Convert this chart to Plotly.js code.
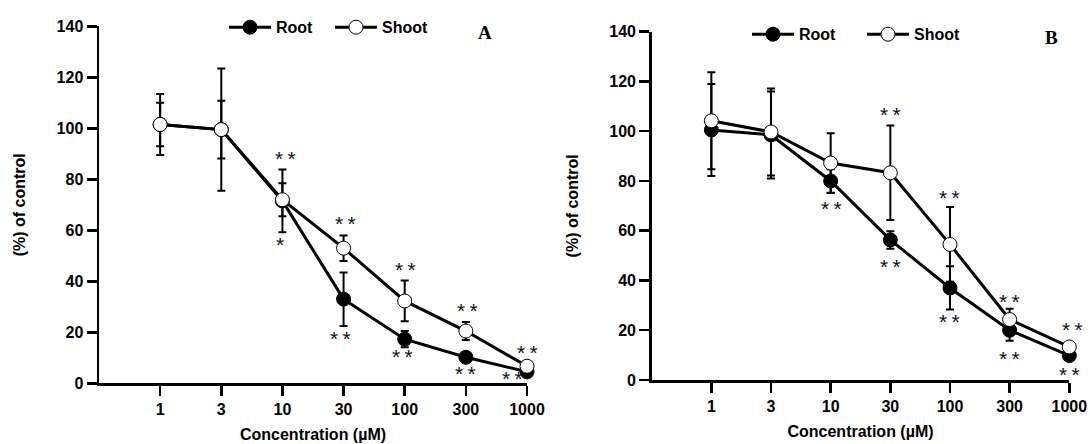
<!DOCTYPE html>
<html>
<head>
<meta charset="utf-8">
<script src="https://cdn.plot.ly/plotly-3.0.1.min.js"></script>
<style>html,body{margin:0;padding:0;background:#fff;}#chart{width:1090px;height:444px;}</style>
</head>
<body>
<div id="chart"></div>
<script>
// ---- data ----
const concentrations = ['1', '3', '10', '30', '100', '300', '1000'];

const rootA     = [101.5, 99.5, 71.5, 33.0, 17.3, 10.2, 4.5];
const rootAErr  = [12.0, 24.0, 12.3, 10.5, 3.2, 2.0, 1.5];
const shootA    = [101.5, 99.5, 72.0, 53.0, 32.3, 20.5, 6.7];
const shootAErr = [8.5, 11.3, 6.5, 5.0, 8.0, 3.5, 1.5];

const rootB     = [100.5, 98.5, 80.0, 56.3, 37.0, 20.0, 9.8];
const rootBErr  = [18.5, 17.5, 4.7, 3.5, 8.7, 4.2, 2.0];
const shootB    = [104.2, 99.7, 87.2, 83.3, 54.5, 24.3, 13.3];
const shootBErr = [19.5, 17.5, 12.0, 19.0, 15.0, 4.3, 2.0];

// significance marks (category, value level, text)
const S2 = '*\u2009*';
const starCatA  = ['10', '10', '30', '30', '100', '100', '300', '300', '1000', '1000'];
const starYA    = [89.5, 55.5, 63.8, 18.7, 45.7, 11.5, 29.8, 5.2, 13.3, 2.9];
const starTxtA  = [S2, '*', S2, S2, S2, S2, S2, S2, S2, S2];
const starDxA   = [3, -2, 2, -3, 1, -2, 2, 0, 0, -15];

const starCatB  = ['10', '30', '30', '100', '100', '300', '300', '1000', '1000'];
const starYB    = [70.3, 107.8, 46.9, 74.6, 24.8, 32.8, 9.8, 21.4, 3.3];
const starTxtB  = [S2, S2, S2, S2, S2, S2, S2, S2, S2];
const starDxB   = [1, 0, 0, 0, 0, 0, 0, 3, 0];

const seriesNames = ['Root', 'Shoot'];
const yTicks = [0, 20, 40, 60, 80, 100, 120, 140];

// ---- styling ----
const FONT = 'Liberation Sans, Arial, sans-serif';
const black = '#000000';

function trace(name, y, err, xa, ya, leg, filled) {
  return {
    type: 'scatter', mode: 'lines+markers', name: name,
    x: concentrations, y: y, xaxis: xa, yaxis: ya, legend: leg,
    line: {color: black, width: 3},
    marker: {size: 14, color: filled ? black : '#ffffff', line: {color: black, width: 1}},
    error_y: {type: 'data', array: err, visible: true, color: black, thickness: 2, width: 4},
    cliponaxis: false
  };
}

const data = [
  trace(seriesNames[0], rootA, rootAErr, 'x', 'y', 'legend', true),
  trace(seriesNames[1], shootA, shootAErr, 'x', 'y', 'legend', false),
  trace(seriesNames[0], rootB, rootBErr, 'x2', 'y2', 'legend2', true),
  trace(seriesNames[1], shootB, shootBErr, 'x2', 'y2', 'legend2', false)
];

const tickFont = {family: FONT, size: 16, color: black, weight: 'bold'};
function xAxis(domain, anchor) {
  return {
    domain: domain, anchor: anchor, type: 'category', range: [-1, 6], autorange: false,
    showline: true, linecolor: black, linewidth: 2.5, showgrid: false, zeroline: false,
    ticks: 'outside', ticklen: 10, tickwidth: 2.5, tickcolor: black,
    tickfont: tickFont, fixedrange: true,
    title: {text: 'Concentration (µM)', font: tickFont, standoff: 12}
  };
}
function yAxis(domain, anchor) {
  return {
    domain: domain, anchor: anchor, range: [0, 140], autorange: false,
    tickvals: yTicks, showline: true, linecolor: black, linewidth: 2.5,
    showgrid: false, zeroline: false,
    ticks: 'outside', ticklen: 10, tickwidth: 2.5, tickcolor: black,
    tickfont: tickFont, fixedrange: true,
    title: {text: '(%) of control', font: tickFont, standoff: 27}
  };
}

function legendCfg(x, y, ew) {
  return {
    orientation: 'h', x: x, y: y, xanchor: 'left', yanchor: 'middle',
    font: {family: FONT, size: 16, color: black, weight: 'bold'},
    bgcolor: 'rgba(0,0,0,0)', borderwidth: 0, itemwidth: 42, tracegroupgap: 0,
    entrywidth: ew, entrywidthmode: 'pixels'
  };
}

const annotations = [];
function addStars(cats, ys, txts, dxs, xref, yref) {
  for (let i = 0; i < cats.length; i++) {
    annotations.push({
      x: concentrations.indexOf(cats[i]), y: ys[i], xref: xref, yref: yref,
      text: txts[i], showarrow: false,
      xanchor: 'center', yanchor: 'middle', xshift: dxs[i], yshift: -3,
      font: {family: FONT, size: 21, color: '#111122'}
    });
  }
}
addStars(starCatA, starYA, starTxtA, starDxA, 'x', 'y');
addStars(starCatB, starYB, starTxtB, starDxB, 'x2', 'y2');

annotations.push({
  x: 485 / 1090, y: 1 - 32 / 444, xref: 'paper', yref: 'paper', text: 'A', showarrow: false,
  xanchor: 'center', yanchor: 'middle',
  font: {family: 'Liberation Serif, Times New Roman, serif', size: 19, color: black, weight: 'bold'}
});
annotations.push({
  x: 1051.7 / 1090, y: 1 - 37.3 / 444, xref: 'paper', yref: 'paper', text: 'B', showarrow: false,
  xanchor: 'center', yanchor: 'middle',
  font: {family: 'Liberation Serif, Times New Roman, serif', size: 19, color: black, weight: 'bold'}
});

const layout = {
  width: 1090, height: 444,
  margin: {l: 0, r: 0, t: 0, b: 0},
  paper_bgcolor: '#ffffff', plot_bgcolor: '#ffffff',
  showlegend: true,
  xaxis: xAxis([99 / 1090, 527 / 1090], 'y'),
  yaxis: yAxis([1 - 383.3 / 444, 1 - 26.3 / 444], 'x'),
  xaxis2: xAxis([651.7 / 1090, 1069.3 / 1090], 'y2'),
  yaxis2: yAxis([1 - 380 / 444, 1 - 31.7 / 444], 'x2'),
  legend: legendCfg(224 / 1090, 1 - 27.3 / 444, 49),
  legend2: legendCfg(747 / 1090, 1 - 34.3 / 444, 58),
  annotations: annotations
};

Plotly.newPlot('chart', data, layout, {displayModeBar: false, staticPlot: true});
</script>
</body>
</html>
